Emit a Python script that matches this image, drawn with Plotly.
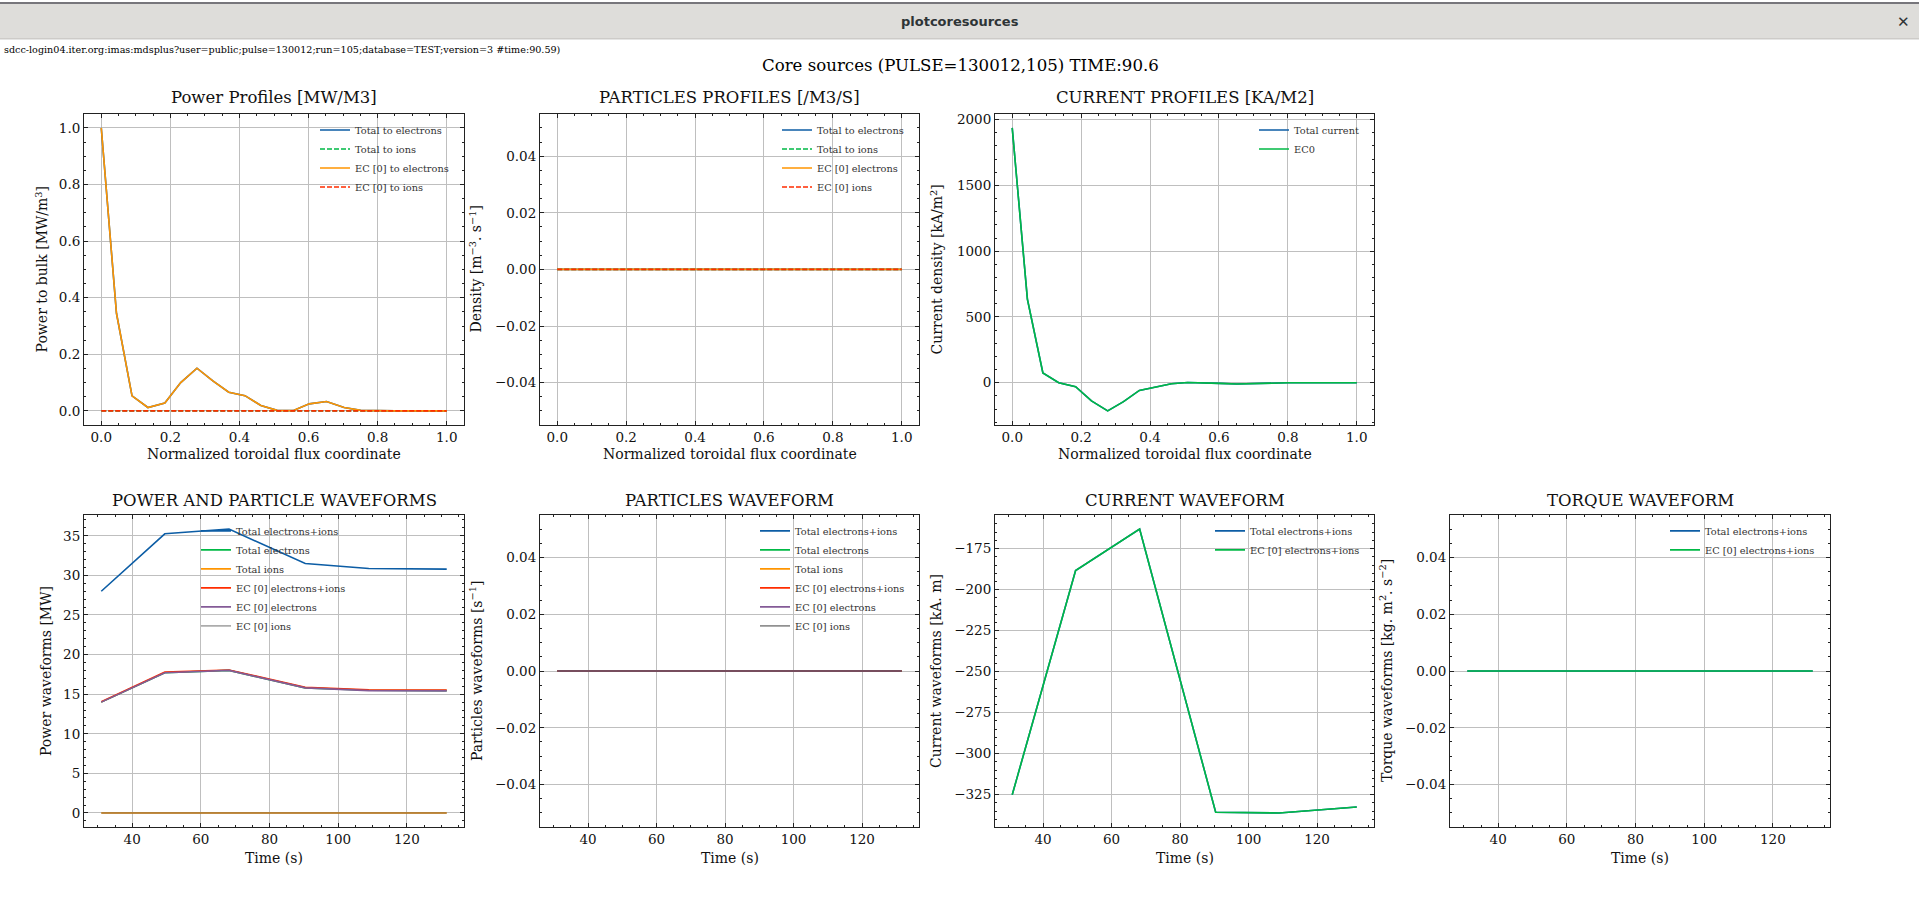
import plotly.graph_objects as go

W, H = 1919, 904

# ---------------- data ----------------
rho = [0.0, 0.044, 0.089, 0.135, 0.184, 0.230, 0.277, 0.323, 0.369, 0.416, 0.462,
       0.509, 0.555, 0.602, 0.652, 0.703, 0.751, 0.80, 0.85, 0.90, 0.95, 1.0]
power_ec_e = [1.0, 0.345, 0.053, 0.012, 0.028, 0.100, 0.151, 0.106, 0.066, 0.054, 0.019,
              0.002, 0.001, 0.025, 0.033, 0.012, 0.002, 0.0, 0.0, 0.0, 0.0, 0.0]
power_total_e = list(power_ec_e)
power_total_i = [0.0] * len(rho)
power_ec_i = [0.0] * len(rho)
particles_zero = [0.0] * len(rho)
current_ec = [1937, 636, 75, 0, -30, -138, -214, -143, -58, -30, -8,
              2, 0, -5, -10, -5, 0, 0, 0, 0, 0, 0]
current_total = list(current_ec)

times = [31.0, 49.5, 68.2, 90.4, 108.9, 131.6]
pw_total = [28.0, 35.25, 35.85, 31.5, 30.87, 30.79]
pw_total_e = [14.0, 17.7, 18.0, 15.8, 15.5, 15.45]
pw_total_i = [0.0, 0.0, 0.0, 0.0, 0.0, 0.0]
pw_ec_ei = [14.05, 17.78, 18.06, 15.86, 15.56, 15.52]
pw_ec_e = [14.0, 17.7, 18.0, 15.8, 15.45, 15.42]
pw_ec_i = [0.0, 0.0, 0.0, 0.0, 0.0, 0.0]
part_wave_zero = [0.0] * len(times)
cur_wave = [-325.0, -188.4, -163.1, -335.7, -336.1, -332.5]
torque_zero = [0.0] * len(times)

BLUE, GREEN, ORANGE, RED, PURPLE, GREY = '#0C5DA5', '#00B945', '#FF9500', '#FF2C00', '#845B97', '#474747'

# ---------------- helpers ----------------
def X(px):
    return px / W

def Y(py):
    return 1 - py / H

cols = [(84, 464), (540, 919), (995, 1374), (1450, 1830)]
rows = [(112, 424), (514, 827)]

fig = go.Figure()

def margin_range(vals, frac=0.05):
    lo, hi = min(vals), max(vals)
    if hi == lo:
        return [lo - 0.055, hi + 0.055]
    d = (hi - lo) * frac
    return [lo - d, hi + d]

axis_base = dict(
    showline=True, linecolor='#222222', linewidth=1, mirror='allticks',
    ticks='inside', ticklen=4, tickwidth=1, tickcolor='#222222',
    showgrid=True, gridcolor='#bfbfbf', gridwidth=1, zeroline=False,
    tickfont=dict(family='DejaVu Serif', size=13.5, color='#111111'),
)

def add_axes(idx, col, row, xr, xdtick, xminor, xfmt, yr, ydtick, yminor, yfmt):
    xa = 'xaxis' if idx == 1 else f'xaxis{idx}'
    ya = 'yaxis' if idx == 1 else f'yaxis{idx}'
    c0, c1 = cols[col]
    r0, r1 = rows[row]
    xd = dict(axis_base)
    xd.update(domain=[X(c0), X(c1)], range=xr, dtick=xdtick, tick0=0, tickformat=xfmt,
              anchor=f'y{idx}' if idx > 1 else 'y',
              minor=dict(ticks='inside', ticklen=2, tickwidth=1, tickcolor='#222222',
                         dtick=xminor, showgrid=False))
    yd = dict(axis_base)
    yd.update(domain=[Y(r1), Y(r0)], range=yr, dtick=ydtick, tick0=0, tickformat=yfmt,
              anchor=f'x{idx}' if idx > 1 else 'x',
              minor=dict(ticks='inside', ticklen=2, tickwidth=1, tickcolor='#222222',
                         dtick=yminor, showgrid=False))
    fig.update_layout(**{xa: xd, ya: yd})

def add_legend(idx, left_px, row_center_px):
    name = 'legend' if idx == 1 else f'legend{idx}'
    fig.update_layout(**{name: dict(
        x=X(left_px - 4), y=Y(row_center_px - 15.5), xanchor='left', yanchor='top',
        bgcolor='rgba(0,0,0,0)', borderwidth=0, tracegroupgap=0,
        font=dict(family='DejaVu Serif', size=9.8, color='#333333'),
        itemclick=False, itemdoubleclick=False)})

def line(idx, x, y, name, color, dash='solid', width=1.6, opacity=1.0):
    fig.add_trace(go.Scatter(
        x=x, y=y, mode='lines', name=name,
        line=dict(color=color, dash=dash, width=width), opacity=opacity,
        xaxis='x' if idx == 1 else f'x{idx}', yaxis='y' if idx == 1 else f'y{idx}',
        legend='legend' if idx == 1 else f'legend{idx}', showlegend=True))

DASH = '5px,2px'
rho_range = margin_range(rho)
t_range = margin_range(times)

# Panel 1: power profiles
add_axes(1, 0, 0, rho_range, 0.2, 0.05, '.1f',
         margin_range(power_total_e + power_total_i), 0.2, 0.05, '.1f')
line(1, rho, power_total_e, 'Total to electrons', BLUE)
line(1, rho, power_total_i, 'Total to ions', GREEN, DASH)
line(1, rho, power_ec_e, 'EC [0] to electrons', ORANGE)
line(1, rho, power_ec_i, 'EC [0] to ions', RED, DASH)
add_legend(1, 319, 129.3)

# Panel 2: particles profiles
add_axes(2, 1, 0, rho_range, 0.2, 0.05, '.1f', margin_range(particles_zero), 0.02, 0.005, '.2f')
line(2, rho, particles_zero, 'Total to electrons', BLUE)
line(2, rho, particles_zero, 'Total to ions', GREEN, DASH)
line(2, rho, particles_zero, 'EC [0] electrons', ORANGE)
line(2, rho, particles_zero, 'EC [0] ions', RED, DASH)
add_legend(2, 781, 129.3)

# Panel 3: current profiles
add_axes(3, 2, 0, rho_range, 0.2, 0.05, '.1f', margin_range(current_total), 500, 100, 'd')
line(3, rho, current_total, 'Total current', BLUE)
line(3, rho, current_ec, 'EC0', GREEN)
add_legend(3, 1258, 129.3)

# Panel 5: power waveforms
add_axes(5, 0, 1, t_range, 20, 5, 'd',
         margin_range(pw_total + pw_total_i), 5, 1, 'd')
line(5, times, pw_total, 'Total electrons+ions', BLUE)
line(5, times, pw_total_e, 'Total electrons', GREEN)
line(5, times, pw_total_i, 'Total ions', ORANGE)
line(5, times, pw_ec_ei, 'EC [0] electrons+ions', RED)
line(5, times, pw_ec_e, 'EC [0] electrons', PURPLE)
line(5, times, pw_ec_i, 'EC [0] ions', GREY, opacity=0.45)
add_legend(5, 200, 531)

# Panel 6: particle waveforms
add_axes(6, 1, 1, t_range, 20, 5, 'd', margin_range(part_wave_zero), 0.02, 0.005, '.2f')
line(6, times, part_wave_zero, 'Total electrons+ions', BLUE)
line(6, times, part_wave_zero, 'Total electrons', GREEN)
line(6, times, part_wave_zero, 'Total ions', ORANGE)
line(6, times, part_wave_zero, 'EC [0] electrons+ions', RED)
line(6, times, part_wave_zero, 'EC [0] electrons', PURPLE)
line(6, times, part_wave_zero, 'EC [0] ions', GREY, opacity=0.6)
add_legend(6, 759, 531)

# Panel 7: current waveform
add_axes(7, 2, 1, t_range, 20, 5, 'd', margin_range(cur_wave), 25, 5, 'd')
line(7, times, cur_wave, 'Total electrons+ions', BLUE)
line(7, times, cur_wave, 'EC [0] electrons+ions', GREEN)
add_legend(7, 1214, 531)

# Panel 8: torque waveform
add_axes(8, 3, 1, t_range, 20, 5, 'd', margin_range(torque_zero), 0.02, 0.005, '.2f')
line(8, times, torque_zero, 'Total electrons+ions', BLUE)
line(8, times, torque_zero, 'EC [0] electrons+ions', GREEN)
add_legend(8, 1669, 531)

# ---------------- text ----------------
annotations = []

def ann(text, xpx, ypx, size, family='DejaVu Serif', angle=0, color='#111111', xanchor='center'):
    annotations.append(dict(text=text, x=X(xpx), y=Y(ypx), xref='paper', yref='paper',
                            showarrow=False, xanchor=xanchor, yanchor='middle',
                            textangle=angle, font=dict(family=family, size=size, color=color)))

titles = [('Power Profiles [MW/M3]', 0, 0), ('PARTICLES PROFILES [/M3/S]', 1, 0),
          ('CURRENT PROFILES [KA/M2]', 2, 0), ('POWER AND PARTICLE WAVEFORMS', 0, 1),
          ('PARTICLES WAVEFORM', 1, 1), ('CURRENT WAVEFORM', 2, 1), ('TORQUE WAVEFORM', 3, 1)]
for t, c, r in titles:
    ann(t, (cols[c][0] + cols[c][1]) / 2, 96 if r == 0 else 500, 16.5)

for c in range(3):
    ann('Normalized toroidal flux coordinate', (cols[c][0] + cols[c][1]) / 2, 453, 14)
for c in range(4):
    ann('Time (s)', (cols[c][0] + cols[c][1]) / 2, 858, 14)

ylabels = [('Power to bulk [MW/m<sup>3</sup>]', 42, 0),
           ('Density [m<sup>−3</sup>. s<sup>−1</sup>]', 476, 0),
           ('Current density [kA/m<sup>2</sup>]', 937, 0),
           ('Power waveforms [MW]', 46, 1),
           ('Particles waveforms [s<sup>−1</sup>]', 476, 1),
           ('Current waveforms [kA. m]', 936, 1),
           ('Torque waveforms [kg. m<sup>2</sup>. s<sup>−2</sup>]', 1386, 1)]
for t, xp, r in ylabels:
    ann(t, xp, (rows[r][0] + rows[r][1]) / 2, 14, angle=-90)

# window chrome
shapes = [
    dict(type='rect', xref='paper', yref='paper', x0=0, x1=1, y0=Y(37), y1=1,
         fillcolor='#deddda', line=dict(width=0), layer='below'),
    dict(type='rect', xref='paper', yref='paper', x0=0, x1=1, y0=Y(2), y1=1,
         fillcolor='#77767b', line=dict(width=0), layer='below'),
    dict(type='line', xref='paper', yref='paper', x0=0, x1=1, y0=Y(37), y1=Y(37),
         line=dict(color='#c0bfbc', width=1), layer='below'),
]
ann('<b>plotcoresources</b>', 960, 20, 13, family='DejaVu Sans', color='#2e3436')
ann('<b>✕</b>', 1903, 20, 15, family='DejaVu Sans', color='#2e3436')
ann('sdcc-login04.iter.org:imas:mdsplus?user=public;pulse=130012;run=105;database=TEST;version=3 #time:90.59)',
    2, 48, 9.6, family='DejaVu Serif', color='#000000', xanchor='left')
ann('Core sources (PULSE=130012,105) TIME:90.6', 960, 63.5, 16.6, family='DejaVu Serif', color='#000000')

fig.update_layout(width=W, height=H, autosize=False,
                  margin=dict(l=0, r=0, t=0, b=0),
                  paper_bgcolor='white', plot_bgcolor='white',
                  annotations=annotations, shapes=shapes, showlegend=True)

fig.write_html('out.html', config={'displayModeBar': False})
